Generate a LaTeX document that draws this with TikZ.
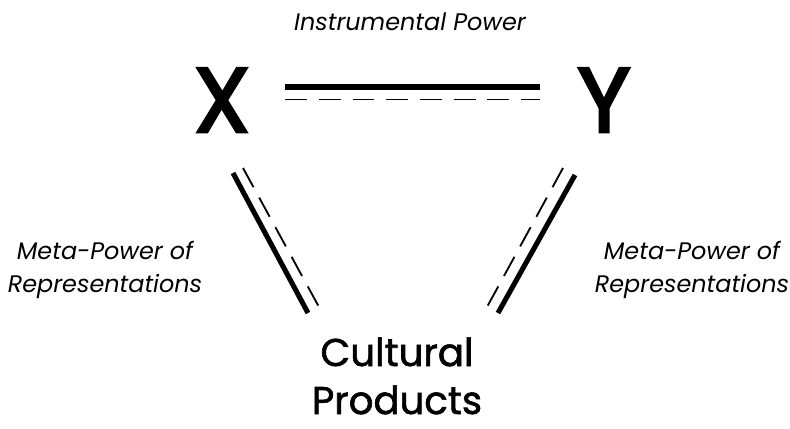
\documentclass[tikz,border=0pt]{standalone}
\usepackage{fontspec}
\setmainfont{Poppins}
\newfontfamily\heavyfont[FakeBold=3]{Poppins}
\newfontfamily\midfont[FakeBold=1.6]{Poppins}
\usetikzlibrary{positioning}

\begin{document}
\begin{tikzpicture}[x=0.025cm, y=-0.025cm]
	\tikzstyle{solidtie}=[line width=3.6pt]
	\tikzstyle{dashtie}=[line width=1.3pt, dash pattern=on 15.5pt off 8.5pt]
	\tikzstyle{label}=[inner sep=0pt, align=center, font=\fontsize{17pt}{24pt}\selectfont\itshape]
	\tikzstyle{actor}=[inner sep=0pt, anchor=base, font=\heavyfont\fontsize{65pt}{70pt}\selectfont]
	\tikzstyle{product}=[inner sep=0pt, anchor=base, font=\midfont\fontsize{27.5pt}{34pt}\selectfont]
	\useasboundingbox (0,0) rectangle (790,428);
	% the three corners
	\node (x) [actor] at (222,132) {X};
	\node (y) [actor] at (604,132) {Y};
	\node (cult) [product] at (397,366) {Cultural};
	\node (prod) [product] at (397,414) {Products};
	% labels of the ties
	\node (instr) [label, anchor=base] at (410,30) {Instrumental Power};
	\node (metal) [label] at (105,270) {Meta-Power of\\Representations};
	\node (metar) [label] at (692,270) {Meta-Power of\\Representations};
	% ends of the ties
	\coordinate (xy1) at (285,87);   \coordinate (xy2) at (540,87);
	\coordinate (xy3) at (285,99.5); \coordinate (xy4) at (540,99.5);
	\coordinate (xc1) at (233,173);  \coordinate (xc2) at (308,313);
	\coordinate (xc3) at (243,168);  \coordinate (xc4) at (319,307);
	\coordinate (yc1) at (575,175);  \coordinate (yc2) at (498,313);
	\coordinate (yc3) at (563,168);  \coordinate (yc4) at (487,307);
	\draw[solidtie] (xy1) -- (xy2);
	\draw[dashtie] (xy3) -- (xy4);
	\draw[solidtie] (xc1) -- (xc2);
	\draw[dashtie] (xc3) -- (xc4);
	\draw[solidtie] (yc1) -- (yc2);
	\draw[dashtie] (yc3) -- (yc4);
\end{tikzpicture}
\end{document}
